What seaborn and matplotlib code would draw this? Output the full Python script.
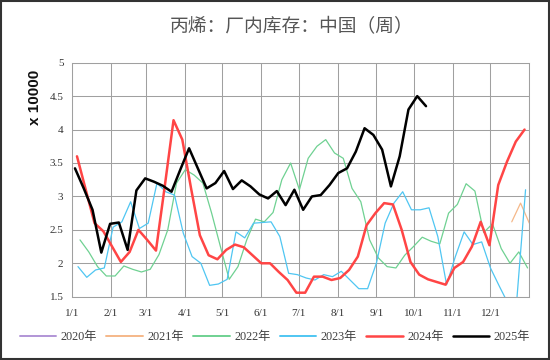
import pandas as pd
import numpy as np
import matplotlib
matplotlib.use("Agg")
import matplotlib.pyplot as plt
from matplotlib.lines import Line2D
from matplotlib.patches import Rectangle
import seaborn as sns

sns.set_theme(style="white")
plt.rcParams["font.family"] = ["Liberation Serif", "Noto Sans CJK SC", "DejaVu Sans"]

# weekly inventory, unit: 10000 t; first week day-of-year per year
years = ["2020年", "2021年", "2022年", "2023年", "2024年", "2025年"]
start_day = {"2020年": 0, "2021年": 351, "2022年": 6.6, "2023年": 5, "2024年": 4.2, "2025年": 2.6}

v2020 = []
v2021 = [2.62, 2.9, 2.6]
v2022 = [2.35, 2.17, 1.95, 1.81, 1.81, 1.96, 1.91, 1.87, 1.91, 2.13,
         2.5, 3.2, 3.4, 3.32, 3.2, 2.75, 2.25, 1.76, 1.95, 2.35,
         2.66, 2.62, 2.76, 3.25, 3.5, 3.1, 3.57, 3.75, 3.85, 3.65,
         3.57, 3.12, 2.92, 2.35, 2.08, 1.95, 1.93, 2.12, 2.25, 2.39,
         2.33, 2.29, 2.75, 2.88, 3.19, 3.08, 2.46, 2.59, 2.22, 2.0,
         2.17, 1.93]
v2023 = [1.95, 1.79, 1.9, 1.93, 2.54, 2.62, 2.92, 2.52, 2.6, 3.2,
         3.07, 3.02, 2.45, 2.1, 2.0, 1.67, 1.69, 1.76, 2.47, 2.38,
         2.6, 2.61, 2.62, 2.4, 1.85, 1.83, 1.78, 1.75, 1.83, 1.8,
         1.88, 1.75, 1.62, 1.62, 2.0, 2.6, 2.9, 3.07, 2.8, 2.8,
         2.83, 2.4, 1.68, 2.1, 2.47, 2.28, 2.32, 1.93, 1.66, 1.4,
         1.45, 3.1]
v2024 = [3.6, 3.1, 2.6, 2.48, 2.25, 2.02, 2.17, 2.5, 2.35, 2.19,
         3.15, 4.14, 3.85, 3.12, 2.42, 2.12, 2.06, 2.2, 2.28, 2.24,
         2.12, 2.0, 2.0, 1.87, 1.75, 1.56, 1.56, 1.8, 1.8, 1.75,
         1.78, 1.9, 2.1, 2.57, 2.75, 2.9, 2.88, 2.5, 2.02, 1.83,
         1.76, 1.72, 1.68, 1.93, 2.02, 2.25, 2.62, 2.27, 3.17, 3.52,
         3.82, 4.0]
v2025 = [3.42, 3.12, 2.8, 2.16, 2.59, 2.61, 2.2, 3.09, 3.27, 3.22,
         3.16, 3.07, 3.4, 3.72, 3.42, 3.12, 3.2, 3.38, 3.11, 3.24,
         3.15, 3.03, 2.97, 3.08, 2.87, 3.1, 2.8, 3.0, 3.02, 3.17,
         3.35, 3.42, 3.67, 4.02, 3.92, 3.7, 3.15, 3.6, 4.3, 4.5,
         4.35]

series = {"2020年": v2020, "2021年": v2021, "2022年": v2022,
          "2023年": v2023, "2024年": v2024, "2025年": v2025}

colours = {"2020年": "#b195d6", "2021年": "#f5b889", "2022年": "#6fd192",
           "2023年": "#4fc6f2", "2024年": "#ff4545", "2025年": "#000000"}
widths = {"2020年": 0.9, "2021年": 0.9, "2022年": 0.9,
          "2023年": 0.9, "2024年": 1.8, "2025年": 1.8}

month_days = [0, 31, 59, 90, 120, 151, 181, 212, 243, 273, 304, 334]
month_labels = ["1/1", "2/1", "3/1", "4/1", "5/1", "6/1",
                "7/1", "8/1", "9/1", "10/1", "11/1", "12/1"]

fig = plt.figure(figsize=(5.5, 3.6), dpi=100)
ax = fig.add_axes([0.1304, 0.1758, 0.832, 0.65])

for yr in years:
    vals = series[yr]
    if not vals:
        continue
    df = pd.DataFrame({"day": start_day[yr] + 7 * np.arange(len(vals)), "value": vals})
    sns.lineplot(data=df, x="day", y="value", ax=ax, color=colours[yr],
                 linewidth=widths[yr], sort=False)

ax.set_xlim(0, 365)
ax.set_ylim(1.5, 5)
ax.set_xticks(month_days + [365])
ax.set_xticklabels(month_labels + [""])
ax.set_yticks(np.arange(1.5, 5.01, 0.5))
ax.set_yticklabels(["1.5", "2", "2.5", "3", "3.5", "4", "4.5", "5"])
ax.set(xlabel=None, ylabel=None)
ax.grid(True, color="#a0a0a0", linewidth=0.75)
for s in ax.spines.values():
    s.set_color("#a0a0a0")
    s.set_linewidth(0.75)
ax.tick_params(axis="both", length=3, width=0.75, color="#a0a0a0",
               labelsize=8, labelcolor="#333333", pad=3)
ax.tick_params(axis="x", pad=6)

fig.text(0.53, 0.925, "丙烯：厂内库存：中国（周）", ha="center", va="center",
         fontsize=13.5, color="#555555", fontweight="medium", family=["Noto Sans CJK SC"])
fig.text(0.064, 0.73, "x 10000", rotation=90, ha="center", va="center",
         fontsize=11, fontweight="bold", color="#111111", family=["Liberation Sans"])

handles = [Line2D([], [], color=colours[yr], linewidth=max(widths[yr], 1.4)) for yr in years]
fig.legend(handles, years, loc="center", bbox_to_anchor=(0.5, 0.064), ncol=6,
           frameon=False, fontsize=8.8, handlelength=3.0, handletextpad=0.35,
           columnspacing=0.75, labelcolor="#404040")

fig.add_artist(Rectangle((0.002, 0.003), 0.996, 0.994, transform=fig.transFigure,
                         fill=False, edgecolor="#333333", linewidth=1.5))

fig.savefig("out.png", dpi=100)
